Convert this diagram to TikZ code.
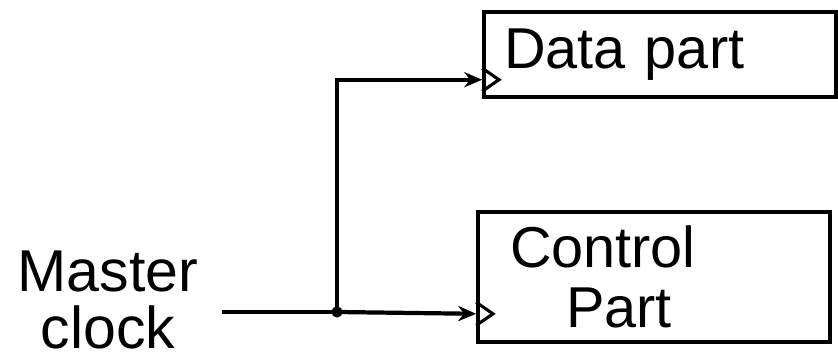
\documentclass[tikz,border=0pt]{standalone}
\usepackage{fontspec}
\setmainfont{Liberation Sans}
\usetikzlibrary{arrows.meta,positioning,calc}

\begin{document}
\begin{tikzpicture}[
  box/.style={draw, line width=2.6pt, minimum width=8.8cm, align=left,
              font=\fontsize{41}{43}\selectfont},
  wire/.style={line width=3pt},
  clk/.style={line width=2.2pt},
  >={Stealth[length=0.45cm,width=0.38cm]}
]
  \useasboundingbox (0,0) rectangle (20.95,9.1);

  \node[box, minimum height=2.125cm, text width=7.8cm, inner xsep=0.5cm] (dp) at (16.5,7.74) {Data part};
  \node[box, minimum height=3.25cm, text width=7.2cm, inner xsep=0.8cm] (cp) at (16.35,2.175)
      {Control\\\hspace{1.4cm}Part};
  \node[align=center, font=\fontsize{42}{40}\selectfont] (mc) at (2.7,1.6) {Master\\clock};

  \coordinate (src) at (5.55,1.3);
  \coordinate (j) at (8.425,1.3);
  \coordinate (dclk) at ($(dp.south west)+(0,0.475)$);
  \coordinate (cclk) at ($(cp.south west)+(0,0.75)$);

  \draw[wire] (src) -- (j);
  \draw[wire, ->] (j) -- (cclk);
  \draw[wire, ->] (j) |- (dclk);
  \fill (j) circle (0.14);

  % clock inputs
  \draw[clk] ($(dclk)+(0,0.29)$) -- ++(0.42,-0.29) -- ++(-0.42,-0.29);
  \draw[clk] ($(cclk)+(0,0.29)$) -- ++(0.42,-0.29) -- ++(-0.42,-0.29);
\end{tikzpicture}
\end{document}
